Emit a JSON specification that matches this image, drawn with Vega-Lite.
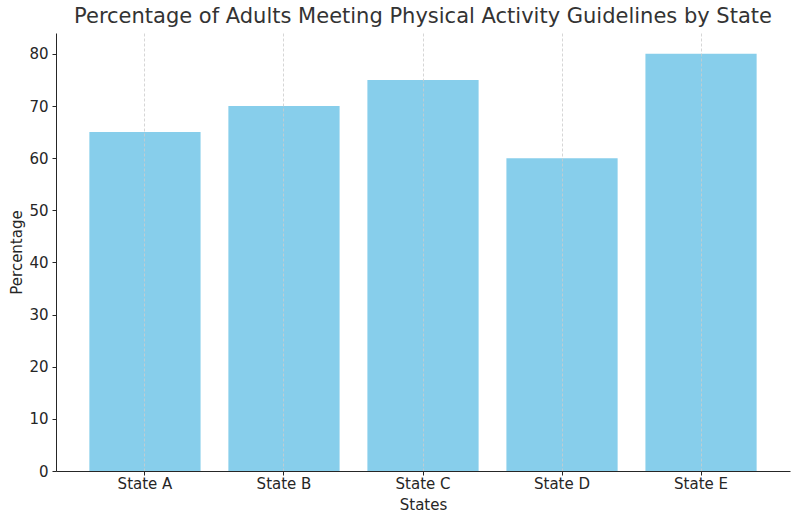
{
  "$schema": "https://vega.github.io/schema/vega-lite/v6.json",
  "width": 734,
  "height": 438,
  "autosize": "none",
  "padding": {"left": 56, "top": 33, "right": 10, "bottom": 51},
  "background": "white",
  "config": {
    "font": "DejaVu Sans",
    "view": {"stroke": null}
  },
  "title": {
    "text": "Percentage of Adults Meeting Physical Activity Guidelines by State",
    "fontSize": 21,
    "fontWeight": "normal",
    "color": "#333333",
    "offset": 6,
    "anchor": "middle"
  },
  "data": {
    "values": [
      {"state": "State A", "pct": 65},
      {"state": "State B", "pct": 70},
      {"state": "State C", "pct": 75},
      {"state": "State D", "pct": 60},
      {"state": "State E", "pct": 80}
    ]
  },
  "mark": {"type": "bar", "color": "#87CEEB"},
  "encoding": {
    "x": {
      "field": "state",
      "type": "nominal",
      "sort": null,
      "title": "States",
      "scale": {"paddingInner": 0.2, "paddingOuter": 0.24},
      "axis": {
        "labelAngle": 0,
        "labelFontSize": 15,
        "labelColor": "#262626",
        "titleFontSize": 15,
        "titleFontWeight": "normal",
        "titleColor": "#262626",
        "titlePadding": 6,
        "domainColor": "#262626",
        "tickColor": "#262626",
        "tickSize": 4,
        "labelPadding": 1,
        "grid": true,
        "gridDash": [3, 2],
        "gridColor": "#cccccc",
        "gridWidth": 0.8,
        "zindex": 1
      }
    },
    "y": {
      "field": "pct",
      "type": "quantitative",
      "title": "Percentage",
      "scale": {"domain": [0, 84], "nice": false},
      "axis": {
        "values": [0, 10, 20, 30, 40, 50, 60, 70, 80],
        "grid": false,
        "labelFontSize": 15,
        "labelColor": "#262626",
        "titleFontSize": 15,
        "titleFontWeight": "normal",
        "titleColor": "#262626",
        "titlePadding": 4,
        "domainColor": "#262626",
        "tickColor": "#262626",
        "tickSize": 4,
        "labelPadding": 4
      }
    }
  }
}
